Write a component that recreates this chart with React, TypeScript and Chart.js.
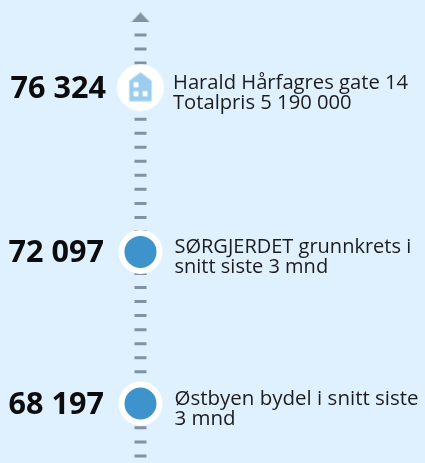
import React, { useEffect, useRef } from "react";
import { Chart, registerables } from "chart.js";

Chart.register(...registerables);

const prices = [76324, 72097, 68197];
const priceLabels = ["76 324", "72 097", "68 197"];
const descriptions = [
  ["Harald Hårfagres gate 14", "Totalpris 5 190 000"],
  ["SØRGJERDET grunnkrets i", "snitt siste 3 mnd"],
  ["Østbyen bydel i snitt siste", "3 mnd"],
];
const scaleTop = 78576;
const scaleBottom = 66668;
const arrowValue = 78126;
const dashStart = 77714;

const BG = "#dff1fe";
const GREY = "#8093a5";
const BLUE = "#3f93cc";
const ICON = "#9dcdee";

function arrowIcon() {
  const c = document.createElement("canvas");
  c.width = 20;
  c.height = 10;
  const g = c.getContext("2d")!;
  g.fillStyle = GREY;
  g.beginPath();
  g.moveTo(10, 0);
  g.lineTo(19.5, 10);
  g.lineTo(0.5, 10);
  g.closePath();
  g.fill();
  return c;
}

function houseIcon() {
  const c = document.createElement("canvas");
  c.width = 48;
  c.height = 48;
  const g = c.getContext("2d")!;
  g.fillStyle = "#ffffff";
  g.beginPath();
  g.arc(24, 24, 23.5, 0, Math.PI * 2);
  g.fill();
  g.fillStyle = ICON;
  g.beginPath();
  g.moveTo(24, 8.7);
  g.lineTo(35.2, 17.2);
  g.lineTo(35.2, 37.7);
  g.lineTo(12.8, 37.7);
  g.lineTo(12.8, 17.2);
  g.closePath();
  g.fill();
  g.fillStyle = "#ffffff";
  g.fillRect(17, 18.7, 5, 5);
  g.fillRect(17, 27.7, 5, 5);
  g.fillRect(26, 27.7, 5, 5);
  return c;
}

const textPlugin = {
  id: "rowText",
  afterDatasetsDraw(chart: any) {
    const { ctx, scales } = chart;
    ctx.save();
    prices.forEach((p, i) => {
      const y = scales.y.getPixelForValue(p);
      ctx.font = "bold 30.6px 'Open Sans'";
      ctx.textAlign = "right";
      ctx.textBaseline = "alphabetic";
      ctx.fillStyle = "#0c0c0c";
      ctx.fillText(priceLabels[i], i === 0 ? 106 : 104, y + 10);
      ctx.font = i === 0 ? "20.2px 'Open Sans'" : i === 2 ? "20.5px 'Open Sans'" : "20px 'Open Sans'";
      ctx.textAlign = "left";
      ctx.fillStyle = "#1c1c1c";
      const x = i === 0 ? 173 : 174.5;
      ctx.fillText(descriptions[i][0], x, y + 1.5);
      ctx.fillText(descriptions[i][1], x, y + 21.5);
    });
    ctx.restore();
  },
};

export default function App() {
  const ref = useRef<HTMLCanvasElement>(null);
  useEffect(() => {
    document.body.style.margin = "0";
    document.body.style.background = BG;
    const chart = new Chart(ref.current!, {
      type: "scatter",
      data: {
        datasets: [
          {
            data: [{ x: 0, y: prices[0] }],
            pointStyle: houseIcon() as any,
            order: 1,
          },
          {
            data: prices.slice(1).map((y) => ({ x: 0, y })),
            pointRadius: 19,
            borderWidth: 6,
            borderColor: "#ffffff",
            backgroundColor: BLUE,
            order: 2,
          },
          {
            data: [{ x: 0, y: arrowValue }],
            pointStyle: arrowIcon() as any,
            order: 3,
          },
          {
            type: "line",
            data: [
              { x: 0, y: dashStart },
              { x: 0, y: scaleBottom },
            ],
            borderColor: GREY,
            borderWidth: 12,
            borderDash: [3, 11.03],
            pointRadius: 0,
            order: 4,
          },
        ] as any,
      },
      options: {
        animation: false,
        responsive: false,
        layout: { padding: 0, autoPadding: false },
        plugins: { legend: { display: false }, tooltip: { enabled: false } },
        scales: {
          x: { display: false, min: -1, max: 2.025 },
          y: { display: false, min: scaleBottom, max: scaleTop },
        },
      },
      plugins: [textPlugin],
    } as any);
    return () => chart.destroy();
  }, []);
  return (
    <canvas
      ref={ref}
      width={425}
      height={463}
      style={{ display: "block", width: 425, height: 463, background: BG }}
    />
  );
}
